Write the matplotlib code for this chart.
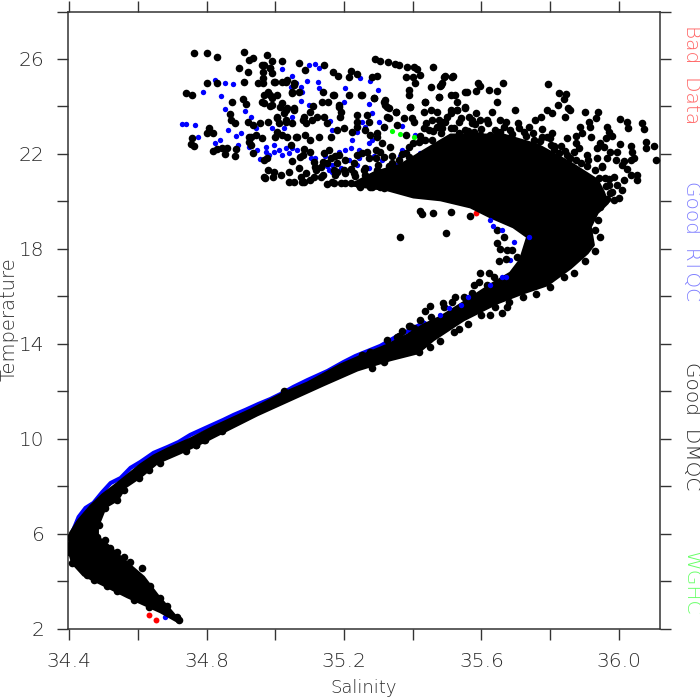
import matplotlib
matplotlib.use('Agg')
import matplotlib.pyplot as plt

# tick labels
x_ticks = [34.4, 34.6, 34.8, 35.0, 35.2, 35.4, 35.6, 35.8, 36.0]
x_labels = ['34.4', '', '34.8', '', '35.2', '', '35.6', '', '36.0']
y_ticks = [2, 4, 6, 8, 10, 12, 14, 16, 18, 20, 22, 24, 26, 28]
y_labels = ['2', '', '6', '', '10', '', '14', '', '18', '', '22', '', '26', '']

# outline of the part where the black dots merge into one solid mass
core_sal = [34.719, 34.657, 34.617, 34.559, 34.512, 34.483, 34.483, 34.506, 34.541, 34.564,
            34.608, 34.657, 34.724, 34.803, 34.849, 34.948, 35.044, 35.14, 35.239, 35.335,
            35.414, 35.46, 35.548, 35.647, 35.722, 35.792, 35.859, 35.908, 35.926, 35.917,
            35.937, 35.967, 35.955, 35.937, 35.859, 35.763, 35.664, 35.583, 35.51, 35.437,
            35.364, 35.292, 35.219, 35.327, 35.402, 35.481, 35.568, 35.626, 35.693, 35.734,
            35.713, 35.684, 35.635, 35.559, 35.481, 35.431, 35.385, 35.327, 35.257, 35.19,
            35.094, 35.024, 34.928, 34.82, 34.753, 34.687, 34.646, 34.608, 34.55, 34.497,
            34.463, 34.428, 34.404, 34.399, 34.41, 34.442, 34.512, 34.57, 34.666, 34.719]
core_temp = [2.36, 3.41, 4.17, 4.89, 5.52, 5.86, 6.28, 7.12, 7.42, 7.96,
             8.39, 8.98, 9.4, 9.94, 10.28, 11.0, 11.63, 12.26, 12.89, 13.32,
             13.61, 14.16, 15.0, 15.72, 16.14, 16.48, 17.19, 17.82, 18.16, 18.92,
             19.51, 19.93, 20.4, 20.9, 21.62, 22.38, 22.8, 22.8, 22.8, 22.17,
             21.53, 21.24, 20.69, 20.48, 20.18, 20.06, 19.76, 19.34, 18.92, 18.5,
             17.53, 16.98, 16.56, 15.84, 15.13, 14.79, 14.37, 13.95, 13.53, 13.11,
             12.35, 11.92, 11.21, 10.49, 9.99, 9.57, 9.27, 8.9, 8.22, 7.63,
             7.16, 6.57, 6.03, 5.31, 4.76, 4.25, 3.75, 3.33, 2.7, 2.27]

# Good DMQC, separate dots
dmqc_sal = [34.763, 34.80, 34.83, 34.91, 34.935, 34.925, 34.977, 34.99, 35.02, 34.96,
            34.985, 34.895, 34.92, 34.965, 34.965, 34.99, 34.91, 34.80, 34.83, 34.95,
            34.965, 35.0, 35.03, 35.055, 34.74, 34.757, 34.967, 34.98, 34.99, 35.005,
            35.05, 34.875, 34.905, 34.915, 34.967, 34.985, 35.02, 35.03, 35.055, 35.006,
            34.868, 34.87, 34.883, 34.92, 34.935, 34.957, 34.98, 35.01, 35.03, 35.05,
            35.08, 34.807, 34.80, 34.82, 34.943, 34.93, 34.96, 35.0, 35.02, 35.064,
            35.088, 34.757, 34.754, 34.763, 34.923, 34.846, 34.86, 34.853, 34.83, 34.82,
            34.885, 34.883, 34.935, 35.045, 35.08, 35.05, 35.07, 34.977, 34.967, 34.98,
            34.996, 34.97, 34.994, 35.017, 35.04, 35.055, 35.083, 35.074, 35.117, 35.14,
            35.09, 35.11, 35.137, 35.14, 35.088, 35.07, 35.143,
            35.29, 35.306, 35.327, 35.348, 35.361, 35.384, 35.403, 35.413, 35.458, 35.167,
            35.182, 35.219, 35.214, 35.238, 35.296, 35.282, 35.381, 35.4, 35.422, 35.493,
            35.516, 35.486, 35.48, 35.408, 35.388, 35.388, 35.453, 35.476, 35.51, 35.558,
            35.25, 35.286, 35.319, 35.32, 35.33, 35.35, 35.393, 35.437, 35.432, 35.51,
            35.53, 35.553, 35.53, 35.167, 35.154, 35.185, 35.187, 35.238, 35.267, 35.238,
            35.272, 35.325, 35.403, 35.432, 35.224, 35.262, 35.296, 35.379, 35.418, 35.486,
            35.156, 35.306, 35.204, 35.272,
            35.456, 35.476, 35.495, 35.51, 35.481, 35.437, 35.456, 35.481, 35.51, 35.534,
            35.553, 35.573, 35.534, 35.563, 35.578, 35.544, 35.515, 35.486,
            35.573, 35.597, 35.616, 35.655, 35.672, 35.706, 35.655, 35.684, 35.738, 35.723,
            35.777, 35.777, 35.752, 35.801, 35.825, 35.859, 35.907, 35.941, 35.597, 35.626,
            35.578,
            35.311, 35.34, 35.388, 35.418, 35.403, 35.437, 35.33, 35.292, 35.253, 35.175,
            35.175, 35.204, 35.233, 35.262, 35.292, 35.321, 35.165, 35.204, 35.243, 35.282,
            35.316, 35.374,
            34.967, 35.039, 35.078, 35.112, 35.132, 35.17, 35.19, 35.219, 35.248, 35.277,
            35.306, 35.132, 35.17, 35.2, 35.228, 35.258, 35.287, 35.326, 35.355,
            35.589, 35.595, 35.585, 35.621, 35.646, 35.662, 35.646, 35.795, 35.825, 35.847,
            35.84, 35.822, 35.851, 35.859, 35.844, 35.584, 35.631, 35.699, 35.791, 35.772,
            35.757, 35.806, 35.9, 35.939, 35.912, 35.932, 36.004, 36.024, 36.026, 36.068,
            36.074, 35.964, 35.97, 35.888, 35.893, 35.917, 35.919, 35.98, 35.849, 35.876,
            35.876, 35.883, 35.806, 35.799, 35.812, 35.844, 35.961, 35.946, 35.937, 35.956,
            36.003, 35.995, 35.973, 36.034, 36.038, 36.043, 36.034, 36.08, 36.08, 36.101,
            36.109, 35.966, 35.99, 36.014, 36.009, 35.876, 35.907, 35.937, 35.951, 36.024,
            36.034, 36.053, 36.053, 36.014, 35.987, 35.97, 35.961, 36.009, 35.995, 35.975,
            35.985, 35.999, 35.946,
            35.362, 35.422, 35.427, 35.459, 35.512, 35.568, 35.498, 35.644, 35.655, 35.675,
            35.672, 35.65, 35.621, 35.592, 35.573, 35.524, 35.451, 35.437, 35.488, 35.391,
            35.369, 35.354, 35.66, 35.673, 35.626, 35.534, 35.45]
dmqc_temp = [26.24, 26.24, 26.10, 26.28, 26.03, 25.96, 26.17, 25.93, 25.93, 25.75,
             25.6, 25.6, 25.47, 25.47, 25.2, 25.4, 25.05, 24.97, 24.97, 24.97,
             24.97, 25.05, 25.05, 24.97, 24.58, 24.48, 24.48, 24.62, 24.35, 24.48,
             24.55, 24.2, 24.3, 24.1, 24.13, 24.0, 24.13, 23.85, 23.92, 23.57,
             23.68, 23.43, 23.32, 23.33, 23.22, 23.32, 23.36, 23.3, 23.36, 23.3,
             23.43, 23.08, 22.9, 22.87, 22.8, 22.73, 22.66, 22.73, 22.8, 22.73,
             22.8, 22.66, 22.42, 22.33, 22.52, 22.24, 22.24, 22.0, 22.2, 22.14,
             22.2, 21.9, 22.03, 22.38, 21.96, 21.68, 21.4, 21.82, 21.75, 21.32,
             21.25, 21.0, 21.04, 21.1, 21.25, 20.83, 20.83, 21.04, 21.46, 21.67,
             23.3, 24.0, 24.2, 24.62, 25.54, 25.82, 25.75,
             25.99, 25.92, 25.89, 25.79, 25.75, 25.68, 25.65, 25.57, 25.68, 25.43,
             25.28, 25.51, 25.26, 25.37, 25.28, 25.26, 25.26, 25.26, 25.33, 25.28,
             25.28, 25.0, 24.84, 25.0, 24.7, 24.5, 24.8, 24.41, 24.48, 24.6,
             24.5, 24.37, 24.27, 24.06, 23.92, 23.75, 23.99, 24.2, 23.75, 23.85,
             24.2, 23.97, 23.85, 24.48, 24.18, 24.06, 23.57, 23.64, 23.64, 23.36,
             23.36, 23.57, 23.36, 23.08, 22.94, 23.01, 22.73, 22.8, 22.52, 23.08,
             22.17, 22.1, 21.75, 21.82,
             23.43, 23.43, 23.36, 23.08, 22.87, 22.59, 22.59, 22.45, 22.59, 22.87,
             23.01, 23.29, 23.36, 23.57, 22.73, 22.31, 22.17, 22.03,
             23.43, 23.43, 23.43, 23.43, 23.36, 23.29, 22.94, 23.01, 23.12, 22.94,
             23.04, 22.73, 22.59, 22.38, 22.03, 21.82, 21.47, 20.98, 22.8, 22.8,
             22.94,
             22.45, 21.89, 22.31, 21.89, 21.47, 21.61, 21.47, 22.17, 22.03, 21.89,
             21.11, 21.19, 21.05, 21.11, 20.97, 21.11, 20.83, 20.76, 20.69, 20.62,
             20.55, 21.05,
             21.04, 20.83, 20.83, 21.04, 21.04, 20.76, 20.76, 20.76, 20.62, 20.62,
             20.62, 21.46, 21.32, 21.32, 21.18, 21.32, 21.04, 21.18, 21.32,
             25.0, 24.84, 24.63, 24.7, 24.67, 24.98, 24.2, 24.95, 24.56, 24.53,
             24.3, 24.07, 23.93, 23.83, 23.57, 23.74, 23.76, 23.83, 23.83, 23.57,
             23.41, 23.71, 23.78, 23.78, 23.36, 23.5, 23.46, 23.36, 23.08, 23.29,
             23.04, 23.12, 22.94, 23.15, 22.87, 23.12, 22.73, 22.76, 22.69, 22.76,
             22.45, 22.24, 22.87, 22.66, 22.34, 22.14, 22.66, 22.45, 22.24, 22.28,
             22.42, 22.1, 22.1, 22.34, 22.1, 21.82, 21.75, 22.48, 22.23, 22.34,
             21.75, 21.82, 21.75, 21.68, 21.54, 21.75, 21.96, 21.82, 21.5, 21.36,
             21.12, 21.12, 20.88, 20.91, 21.02, 20.93, 20.63, 20.46, 20.7, 20.35,
             20.04, 20.13, 19.78,
             18.48, 19.61, 19.45, 19.5, 19.57, 19.38, 18.65, 18.23, 17.99, 17.95,
             17.57, 17.5, 16.97, 16.62, 16.12, 15.98, 15.59, 15.4, 15.7, 14.75,
             14.55, 14.3, 15.31, 15.56, 15.21, 14.61, 13.88]

# more DMQC dots: upper cloud
cloud_sal = [34.967, 34.986, 34.996, 35.02, 35.035, 35.054, 35.068, 35.049, 34.986, 34.962,
             34.991, 35.015, 35.035, 35.054, 35.025, 35.005, 35.03, 35.083, 35.102, 35.122,
             35.141, 35.107, 35.151, 35.185, 35.19, 35.17, 35.214, 35.253, 35.287, 35.316,
             35.326, 35.35, 35.33, 35.374, 35.398, 35.355, 35.316, 35.296, 35.277, 35.238,
             35.199, 35.18, 35.161, 35.127, 35.102, 35.059, 35.035, 35.005, 34.923, 34.928,
             35.083, 35.073, 35.102, 35.141, 35.161, 35.185, 35.238, 35.267, 35.292, 35.316,
             35.335, 35.369, 35.389, 35.423, 35.447, 35.471, 35.49, 35.452, 35.471, 35.51,
             35.529, 35.553, 35.524, 35.553, 35.515, 35.49, 35.481, 35.476, 35.437, 35.393,
             35.229, 35.18, 35.151, 35.112, 35.296, 35.335]
cloud_temp = [25.75, 25.6, 25.04, 25.04, 25.11, 24.9, 24.62, 24.62, 24.48, 24.2,
              24.06, 23.99, 23.92, 23.85, 23.71, 23.5, 23.43, 23.57, 23.78, 23.57,
              23.57, 23.43, 23.29, 23.99, 23.78, 24.48, 24.48, 24.48, 24.34, 24.2,
              23.99, 23.78, 23.5, 23.5, 23.5, 23.22, 23.15, 22.87, 22.8, 23.15,
              23.08, 23.0, 22.73, 22.73, 22.59, 22.73, 22.73, 22.94, 22.73, 22.38,
              22.2, 21.88, 22.1, 22.03, 21.81, 21.95, 21.95, 22.1, 21.81, 21.88,
              22.3, 22.0, 21.88, 22.59, 23.0, 23.15, 23.36, 23.85, 23.78, 23.71,
              23.85, 23.92, 24.48, 24.62, 25.25, 25.25, 24.9, 24.41, 24.2, 23.99,
              21.6, 21.6, 21.6, 21.67, 21.32, 21.46]

# more DMQC dots: rough rim of the solid mass
dome_sal = [35.44, 35.46, 35.48, 35.5, 35.52, 35.54, 35.56, 35.58, 35.6, 35.62,
            35.64, 35.665, 35.69, 35.71, 35.73, 35.75, 35.77, 35.79, 35.81, 35.83,
            35.85, 35.87, 35.89, 35.91, 35.93, 35.95, 35.96, 35.97, 35.98, 35.965,
            35.94, 35.93, 35.945, 35.93, 35.9, 35.87, 35.84, 35.8, 35.76, 35.72,
            35.68, 35.64, 35.6, 35.56, 35.52, 35.48,
            35.4, 35.38, 35.42, 35.36, 35.34, 35.3, 35.26, 35.22, 35.18, 35.14,
            35.1, 35.15, 35.12, 35.09]
dome_temp = [23.3, 22.95, 23.2, 23.55, 23.1, 23.5, 22.95, 23.25, 23.05, 23.3,
             23.0, 23.15, 22.85, 23.1, 22.75, 22.9, 22.55, 22.7, 22.2, 22.35,
             21.95, 22.1, 21.6, 21.75, 21.3, 21.45, 21.0, 20.7, 20.4, 20.1,
             19.2, 18.8, 18.5, 17.9, 17.5, 17.0, 16.8, 16.4, 16.1, 15.95,
             15.75, 15.55, 15.2, 14.85, 14.5, 14.1,
             22.45, 22.05, 22.75, 21.75, 21.6, 21.55, 21.4, 21.35, 21.25, 21.1,
             20.9, 20.75, 21.3, 21.2]

# more DMQC dots: bumps along the edges of the curve
rim_sal = [34.506, 34.52, 34.54, 34.559, 34.578, 34.612, 34.637, 34.666, 34.685, 34.714,
           34.72, 34.452, 34.472, 34.51, 34.54, 34.588, 34.632, 34.409, 34.399, 34.404,
           34.428, 34.462, 34.491, 34.53, 34.481, 34.481,
           34.487, 34.506, 34.54, 34.559, 34.603, 34.632, 34.666, 34.739, 34.768, 34.797,
           34.768, 34.792, 34.845, 35.025, 35.282, 35.316, 35.374, 35.417, 35.388, 35.359,
           35.325, 35.277, 35.253,
           35.646, 35.665, 35.689, 35.704, 35.636, 35.616, 35.597, 35.578, 35.549, 35.515,
           35.49, 35.452, 35.422, 35.403, 35.364]
rim_temp = [5.73, 5.38, 5.24, 5.03, 4.82, 4.54, 3.77, 3.28, 2.93, 2.5,
            2.36, 4.26, 4.05, 3.77, 3.56, 3.2, 2.92, 4.75, 5.24, 5.87,
            6.43, 6.93, 7.42, 7.84, 5.87, 6.36,
            6.37, 7.07, 7.42, 7.84, 8.33, 8.68, 8.96, 9.46, 9.74, 9.95,
            9.74, 9.95, 10.34, 12.02, 12.96, 13.25, 13.74, 13.67, 14.75, 14.33,
            14.16, 13.67, 13.53,
            18.79, 18.51, 17.95, 17.67, 16.83, 16.48, 16.97, 16.48, 15.98, 15.77,
            15.56, 15.14, 15.0, 14.65, 14.3]

# Good RTQC
rtqc_sal = [34.73, 34.74, 34.766, 34.775, 34.825, 34.838, 34.79, 34.825, 34.855, 34.877,
            34.843, 34.855, 34.912, 34.93, 34.862, 34.9, 34.885, 34.892, 34.925, 34.948,
            34.945, 34.955, 34.972, 34.972, 34.982, 34.996, 34.996, 35.011, 35.02, 35.03,
            35.04, 35.05, 35.064, 35.083, 35.059, 35.045, 35.074, 35.079, 35.05, 35.093,
            35.098, 35.117, 35.127, 35.02, 35.124, 35.127, 35.074, 35.05, 35.098, 34.991,
            35.025, 35.103, 35.117,
            35.204, 35.248, 35.275, 35.298, 35.2, 35.274, 35.282, 35.253, 35.26, 35.316,
            35.238, 35.301, 35.165, 35.16, 35.369, 35.406, 35.422, 35.442, 35.466, 35.486,
            35.459, 35.515, 35.49, 35.369, 35.364, 35.388, 35.345, 35.35, 35.224, 35.243,
            35.219, 35.204, 35.185, 35.243, 35.214, 35.282, 35.272, 35.311, 35.287, 35.296,
            35.272, 35.238, 35.165, 35.156, 35.165, 35.19, 35.146, 35.151,
            35.728, 35.723, 35.684, 35.432, 35.388, 35.345, 35.31, 34.68]
rtqc_temp = [23.26, 23.26, 23.2, 22.7, 22.45, 22.59, 24.6, 25.1, 25.0, 24.95,
             24.44, 23.88, 23.8, 23.54, 23.0, 22.9, 22.76, 22.38, 22.27, 22.17,
             23.1, 21.8, 22.31, 22.1, 21.96, 22.1, 22.38, 22.17, 21.96, 22.24,
             22.03, 22.24, 22.17, 21.96, 24.97, 24.83, 24.83, 24.62, 25.3, 25.09,
             25.75, 25.79, 25.61, 25.56, 25.02, 24.79, 24.24, 23.57, 24.06, 23.08,
             23.08, 21.82, 21.82,
             24.77, 25.21, 25.07, 24.7, 24.18, 24.11, 23.71, 23.36, 23.15, 23.11,
             22.94, 23.36, 23.01, 23.39, 23.18, 22.8, 22.03, 21.75, 21.92, 21.65,
             21.47, 21.16, 21.4, 22.17, 21.89, 21.61, 21.11, 21.54, 22.59, 22.17,
             22.24, 22.17, 22.1, 21.82, 21.75, 22.59, 22.45, 21.75, 21.89, 21.33,
             21.4, 21.54, 21.54, 21.33, 21.25, 21.4, 21.89, 21.47,
             18.79, 17.81, 17.53, 14.86, 14.58, 14.16, 13.88, 2.48]

# Good RTQC dots that show inside the notch of the curve
notch_sal = [35.626, 35.634, 35.66, 35.694, 35.738, 35.66, 35.672, 35.626, 35.56, 35.539, 35.505, 35.48]
notch_temp = [19.2, 18.97, 18.79, 18.3, 18.51, 16.83, 16.8, 16.48, 15.98, 15.63, 15.49, 15.21]

# Good RTQC dots along the upper edge of the main curve
edge_sal = [34.404, 34.428, 34.448, 34.471, 34.497, 34.521, 34.55, 34.579, 34.608, 34.646,
            34.687, 34.719, 34.753, 34.797, 34.849, 34.879, 34.913, 34.951, 34.986, 35.021,
            35.053, 35.094, 35.126, 35.152, 35.199, 35.233, 35.306, 35.356, 35.393, 35.431]
edge_temp = [5.86, 6.7, 7.08, 7.29, 7.75, 8.13, 8.34, 8.77, 9.02, 9.4,
             9.65, 9.86, 10.16, 10.45, 10.79, 11.0, 11.21, 11.46, 11.67, 11.92,
             12.18, 12.47, 12.68, 12.85, 13.23, 13.48, 13.91, 14.33, 14.58, 14.88]

# Bad Data and WGHC
bad_sal = [34.633, 34.653, 35.27, 35.585]
bad_temp = [2.57, 2.36, 20.83, 19.5]
wghc_sal = [35.364, 35.403, 35.34]
wghc_temp = [22.84, 22.7, 22.97]

ink = '#2b2b2b'
plt.rcParams['font.weight'] = 'light'

fig = plt.figure(figsize=(7, 7), dpi=100)
ax = fig.add_axes([68 / 700, 1 - 628.5 / 700, 591.5 / 700, 617 / 700])

ax.scatter(bad_sal, bad_temp, s=18, color='#ff0000', linewidths=0, zorder=2)
ax.plot(edge_sal, edge_temp, color='#0000ff', lw=3, solid_joinstyle='round', zorder=2)
ax.scatter(rtqc_sal, rtqc_temp, s=15, color='#0000ff', linewidths=0, zorder=2)
ax.fill(core_sal, core_temp, facecolor='black', edgecolor='black', lw=2, joinstyle='round', zorder=3)
ax.scatter(dmqc_sal + cloud_sal + dome_sal + rim_sal, dmqc_temp + cloud_temp + dome_temp + rim_temp,
           s=30, color='black', linewidths=0, zorder=3)
ax.scatter(notch_sal, notch_temp, s=15, color='#0000ff', linewidths=0, zorder=4)
ax.scatter(wghc_sal, wghc_temp, s=14, color='#00ff00', linewidths=0, zorder=4)

ax.set_xlim(34.397, 36.118)
ax.set_ylim(2, 28)
ax.set_xticks(x_ticks)
ax.set_xticklabels(x_labels)
ax.set_yticks(y_ticks)
ax.set_yticklabels(y_labels)
ax.tick_params(axis='both', direction='out', length=8, width=1, color='#333333', labelcolor=ink,
               labelsize=14.5, top=True, right=True, pad=9)
for s in ax.spines.values():
    s.set_linewidth(1.1)
    s.set_color('#333333')

fig.text(364 / 700, 1 - 688 / 700, 'Salinity', ha='center', va='center', fontsize=13, color=ink)
fig.text(9 / 700, 1 - 319 / 700, 'Temperature', ha='center', va='center', rotation=90, fontsize=14, color=ink)

# side legend
fig.text(691 / 700, 1 - 75 / 700, 'Bad  Data', rotation=-90, ha='center', va='center', fontsize=14.5, color='#ff6666')
fig.text(691 / 700, 1 - 241 / 700, 'Good  RTQC', rotation=-90, ha='center', va='center', fontsize=14.5, color='#8080ff')
fig.text(691 / 700, 1 - 426 / 700, 'Good  DMQC', rotation=-90, ha='center', va='center', fontsize=14.5, color=ink)
fig.text(691 / 700, 1 - 583 / 700, 'WGHC', rotation=-90, ha='center', va='center', fontsize=14.5, color='#66ff66')

fig.savefig('out.png', dpi=100)
